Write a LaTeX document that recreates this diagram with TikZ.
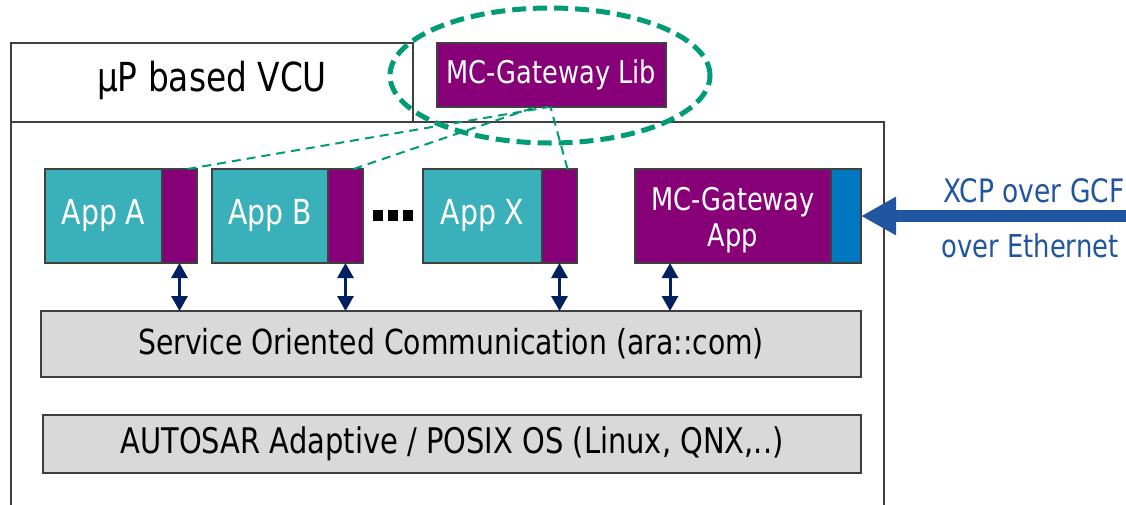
\documentclass[tikz,border=0pt]{standalone}
\usepackage{fontspec}
\setmainfont{DejaVu Sans}[FakeStretch=0.82]
\usetikzlibrary{arrows.meta,calc,shapes.geometric}
\definecolor{bordc}{HTML}{404040}
\definecolor{appteal}{HTML}{3AB0BA}
\definecolor{mcpurple}{HTML}{870077}
\definecolor{stripblue}{HTML}{0078C0}
\definecolor{graybox}{HTML}{D9D9D9}
\definecolor{grn}{HTML}{009B77}
\definecolor{navy}{HTML}{002060}
\definecolor{xcpblue}{HTML}{2155A0}
\begin{document}
\begin{tikzpicture}[x=1pt,y=-1pt,
  bx/.style={draw=bordc, line width=2.2pt, inner sep=0pt, outer sep=0pt, anchor=north west},
  appbox/.style={bx, fill=appteal, text=white, font=\fontsize{34.5}{40}\selectfont},
  purp/.style={bx, fill=mcpurple},
  graystyle/.style={bx, fill=graybox, font=\fontsize{34.5}{40}\selectfont},
  dbl/.style={{Triangle[width=16pt,length=15pt]}-{Triangle[width=16pt,length=15pt]}, line width=3pt, draw=navy},
  link/.style={draw=grn, line width=2pt, dash pattern=on 9pt off 6pt},
  dotsq/.style={fill=black, minimum width=10pt, minimum height=11pt, inner sep=0pt, anchor=north west},
  xcptext/.style={text=xcpblue, anchor=base},
]
\useasboundingbox (0,0) rectangle (1126,504);
% main box and label box
\node[bx, minimum width=873pt, minimum height=400pt] (main) at (11,122) {};
\node[bx, minimum width=402pt, minimum height=79pt] (vcu) at (11,43) {};
\node[font=\fontsize{40}{48}\selectfont, anchor=base] (vcut) at (212,91) {μP based VCU};
\node[purp, minimum width=229pt, minimum height=64pt, text=white, font=\fontsize{31.3}{36}\selectfont] (lib) at (437,43) {MC-Gateway Lib};
% apps
\node[appbox, minimum width=117pt, minimum height=94pt] (appa) at (45,169) {App A};
\node[purp, minimum width=35pt, minimum height=94pt] (pa) at (162,169) {};
\node[appbox, minimum width=116pt, minimum height=94pt] (appb) at (212,169) {App B};
\node[purp, minimum width=35pt, minimum height=94pt] (pb) at (328,169) {};
\node[dotsq] (d1) at (373,210) {};
\node[dotsq] (d2) at (388,210) {};
\node[dotsq] (d3) at (403,210) {};
\node[appbox, minimum width=119pt, minimum height=94pt] (appx) at (423,169) {App X};
\node[purp, minimum width=35pt, minimum height=94pt] (px) at (542,169) {};
\node[purp, minimum width=196pt, minimum height=94pt] (mcapp) at (635,169) {};
\node[text=white, align=center, font=\fontsize{31.3}{36}\selectfont, inner sep=0pt] (mcappt) at ($(mcapp.center)+(0,4)$) {MC-Gateway\\App};
\node[bx, fill=stripblue, minimum width=30pt, minimum height=94pt] (strip) at (831,169) {};
% layers
\node[graystyle, minimum width=820pt, minimum height=66pt] (svc) at (41,311) {Service Oriented Communication (ara::com)};
\node[graystyle, minimum width=818pt, minimum height=58pt, font=\fontsize{35.3}{40}\selectfont] (os) at (43,415) {AUTOSAR Adaptive / POSIX OS (Linux, QNX,..)};
% double arrows
\draw[dbl] (pa.south) -- (pa.south |- svc.north);
\draw[dbl] (pb.south) -- (pb.south |- svc.north);
\draw[dbl] (px.south) -- (px.south |- svc.north);
\coordinate (mcarr) at (670,263);
\draw[dbl] (mcarr) -- (mcarr |- svc.north);
% XCP arrow
\coordinate (xcpin) at (1130,216);
\draw[xcpblue, line width=12pt, -{Triangle[width=36pt,length=35pt]}] (xcpin) -- (strip.east);
\node[xcptext, font=\fontsize{32.3}{36}\selectfont] (t1) at (1034,202) {XCP over GCF};
\node[xcptext, font=\fontsize{31.5}{36}\selectfont] (t2) at (1030,257) {over Ethernet};
% dashed links
\draw[link] ([xshift=8pt]pa.north) -- ([xshift=-3pt]lib.south);
\draw[link] ([xshift=8pt]pb.north) -- ([xshift=-16pt]lib.south);
\draw[link] ([xshift=8pt]px.north) -- ([xshift=-1pt]lib.south);
% ellipse
\node[ellipse, draw=grn, line width=5pt, dash pattern=on 14pt off 7pt, minimum width=320pt, minimum height=135pt, inner sep=0pt] (ring) at (550,75.5) {};
\end{tikzpicture}
\end{document}
